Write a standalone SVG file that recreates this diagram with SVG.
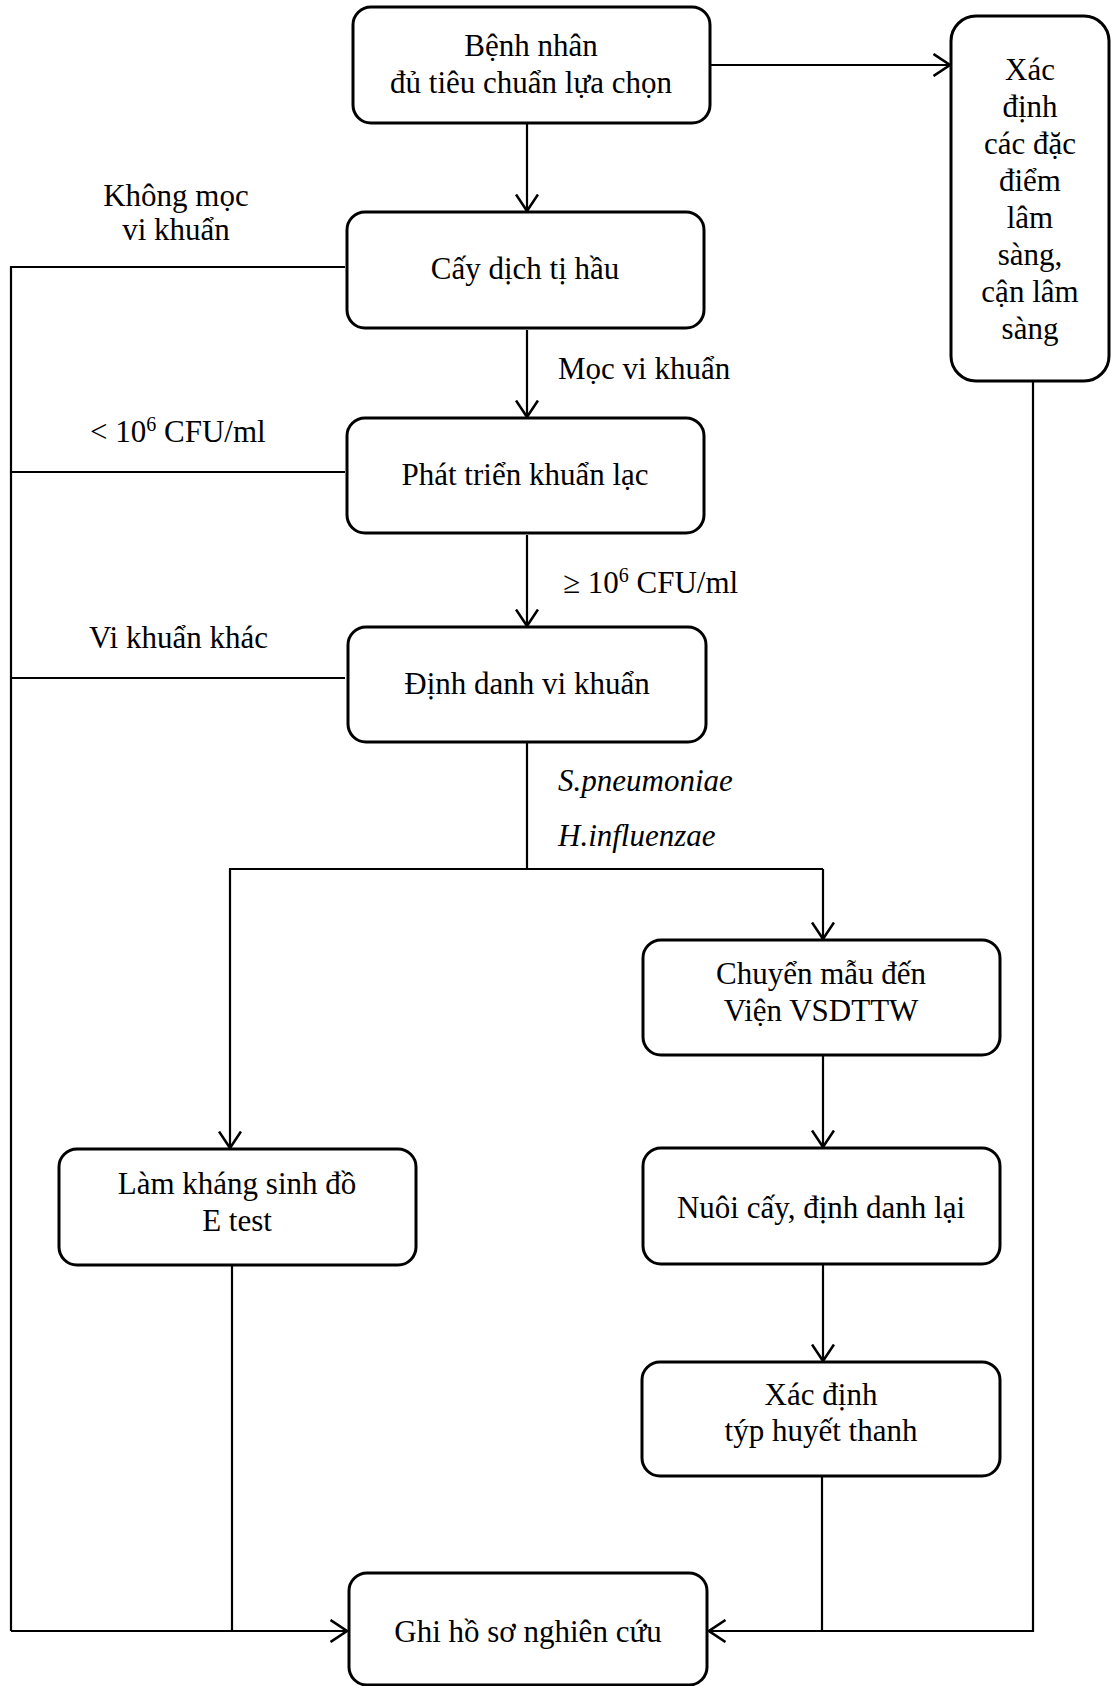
<svg xmlns="http://www.w3.org/2000/svg" width="1111" height="1686" viewBox="0 0 1111 1686">
<style>
.box{fill:#fff;stroke:#000;stroke-width:3}
.t{font-family:"Liberation Serif","Times New Roman",serif;font-size:31px;fill:#000;text-anchor:middle}
.l{font-family:"Liberation Serif","Times New Roman",serif;font-size:31px;fill:#000}
.c{fill:none;stroke:#000;stroke-width:2.2}
.ca{fill:none;stroke:#000;stroke-width:2.2;marker-end:url(#ah)}
</style>
<defs>
<marker id="ah" viewBox="0 0 19 24" refX="17.5" refY="12" markerWidth="19" markerHeight="24" markerUnits="userSpaceOnUse" orient="auto">
<path d="M1,1 L17.5,12 L1,23" fill="none" stroke="#000" stroke-width="2.6"/>
</marker>
</defs>
<g id="connectors">
<path class="ca" d="M710,65 H950"/>
<path class="ca" d="M527,123 V211"/>
<path class="ca" d="M527,330 V417"/>
<path class="ca" d="M527,535 V626"/>
<path class="c" d="M345,267 H11 V1631"/>
<path class="c" d="M345,472 H11"/>
<path class="c" d="M345,678 H11"/>
<path class="ca" d="M11,1631 H347"/>
<path class="c" d="M527,743 V869"/>
<path class="c" d="M229,869 H823"/>
<path class="ca" d="M230,869 V1148"/>
<path class="ca" d="M823,869 V939"/>
<path class="ca" d="M823,1056 V1147"/>
<path class="ca" d="M823,1265 V1361"/>
<path class="c" d="M232,1266 V1631"/>
<path class="c" d="M822,1477 V1631"/>
<path class="ca" d="M1033,381 V1631 H709"/>
</g>
<g id="n1"><rect class="box" x="353" y="7" width="357" height="116" rx="18"/><text class="t" x="531" y="56">Bệnh nhân</text><text class="t" x="531" y="93">đủ tiêu chuẩn lựa chọn</text></g>
<g id="n2"><rect class="box" x="951" y="16" width="158" height="365" rx="25"/>
<text class="t" x="1030" y="80">Xác</text><text class="t" x="1030" y="117">định</text><text class="t" x="1030" y="154">các đặc</text><text class="t" x="1030" y="191">điểm</text><text class="t" x="1030" y="228">lâm</text><text class="t" x="1030" y="265">sàng,</text><text class="t" x="1030" y="302">cận lâm</text><text class="t" x="1030" y="339">sàng</text></g>
<g id="n3"><rect class="box" x="347" y="212" width="357" height="116" rx="18"/><text class="t" x="525" y="279">Cấy dịch tị hầu</text></g>
<g id="n4"><rect class="box" x="347" y="418" width="357" height="115" rx="18"/><text class="t" x="525" y="485">Phát triển khuẩn lạc</text></g>
<g id="n5"><rect class="box" x="348" y="627" width="358" height="115" rx="18"/><text class="t" x="527" y="694">Định danh vi khuẩn</text></g>
<g id="n6"><rect class="box" x="643" y="940" width="357" height="115" rx="18"/><text class="t" x="821" y="984">Chuyển mẫu đến</text><text class="t" x="821" y="1021">Viện VSDTTW</text></g>
<g id="n7"><rect class="box" x="643" y="1148" width="357" height="116" rx="18"/><text class="t" x="821" y="1218">Nuôi cấy, định danh lại</text></g>
<g id="n8"><rect class="box" x="642" y="1362" width="358" height="114" rx="18"/><text class="t" x="821" y="1405">Xác định</text><text class="t" x="821" y="1441">týp huyết thanh</text></g>
<g id="n9"><rect class="box" x="59" y="1149" width="357" height="116" rx="18"/><text class="t" x="237" y="1194">Làm kháng sinh đồ</text><text class="t" x="237" y="1231">E test</text></g>
<g id="n10"><rect class="box" x="349" y="1573" width="358" height="112" rx="18"/><text class="t" x="528" y="1642">Ghi hồ sơ nghiên cứu</text></g>
<g id="labels">
<text class="t" x="176" y="206">Không mọc</text>
<text class="t" x="176" y="240">vi khuẩn</text>
<text class="l" x="558" y="379">Mọc vi khuẩn</text>
<text class="l" x="90" y="442">&lt; 10<tspan font-size="20" dy="-11">6</tspan><tspan dy="11"> CFU/ml</tspan></text>
<text class="l" x="563" y="593">≥ 10<tspan font-size="20" dy="-11">6</tspan><tspan dy="11"> CFU/ml</tspan></text>
<text class="l" x="89" y="648">Vi khuẩn khác</text>
<text class="l" x="558" y="791" font-style="italic">S.pneumoniae</text>
<text class="l" x="558" y="846" font-style="italic">H.influenzae</text>
</g>
</svg>
